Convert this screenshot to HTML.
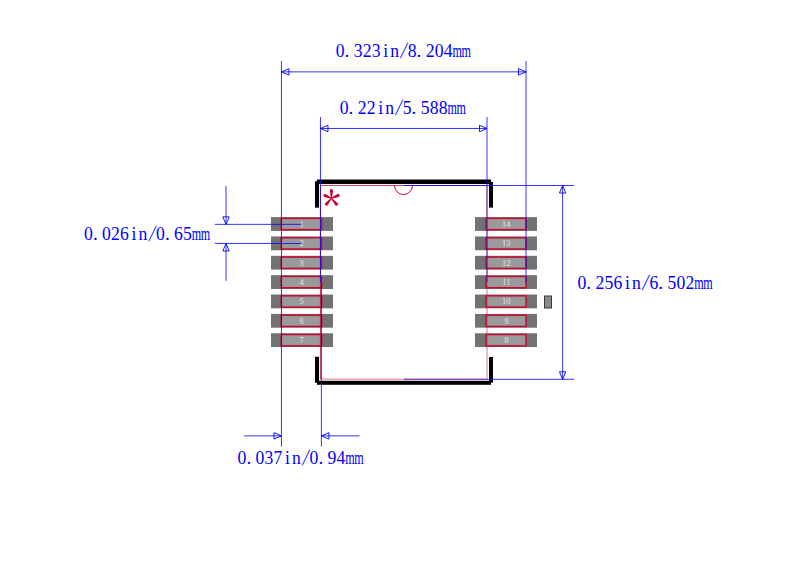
<!DOCTYPE html>
<html><head><meta charset="utf-8"><style>html,body{margin:0;padding:0;background:#fff;width:800px;height:568px;overflow:hidden}svg{display:block}</style></head>
<body><svg width="800" height="568" viewBox="0 0 800 568">
<rect width="800" height="568" fill="#fff"/>
<rect x="271.00" y="217.10" width="62.00" height="13.80" fill="#727272" stroke="none" stroke-width="0"/>
<rect x="281.30" y="218.35" width="40.30" height="11.30" fill="#999a99" stroke="#c80a32" stroke-width="1.5"/>
<text x="301.75" y="226.90" font-size="8.6" fill="#dcdcdc" stroke="#d0d0d0" stroke-width="0.2" text-anchor="middle" font-family="Liberation Serif">1</text>
<rect x="475.00" y="217.10" width="62.00" height="13.80" fill="#727272" stroke="none" stroke-width="0"/>
<rect x="486.00" y="218.35" width="40.00" height="11.30" fill="#999a99" stroke="#c80a32" stroke-width="1.5"/>
<text x="506.30" y="226.90" font-size="8.6" fill="#dcdcdc" stroke="#d0d0d0" stroke-width="0.2" text-anchor="middle" font-family="Liberation Serif">14</text>
<rect x="271.00" y="236.46" width="62.00" height="13.80" fill="#727272" stroke="none" stroke-width="0"/>
<rect x="281.30" y="237.71" width="40.30" height="11.30" fill="#999a99" stroke="#c80a32" stroke-width="1.5"/>
<text x="301.75" y="246.26" font-size="8.6" fill="#dcdcdc" stroke="#d0d0d0" stroke-width="0.2" text-anchor="middle" font-family="Liberation Serif">2</text>
<rect x="475.00" y="236.46" width="62.00" height="13.80" fill="#727272" stroke="none" stroke-width="0"/>
<rect x="486.00" y="237.71" width="40.00" height="11.30" fill="#999a99" stroke="#c80a32" stroke-width="1.5"/>
<text x="506.30" y="246.26" font-size="8.6" fill="#dcdcdc" stroke="#d0d0d0" stroke-width="0.2" text-anchor="middle" font-family="Liberation Serif">13</text>
<rect x="271.00" y="255.82" width="62.00" height="13.80" fill="#727272" stroke="none" stroke-width="0"/>
<rect x="281.30" y="257.07" width="40.30" height="11.30" fill="#999a99" stroke="#c80a32" stroke-width="1.5"/>
<text x="301.75" y="265.62" font-size="8.6" fill="#dcdcdc" stroke="#d0d0d0" stroke-width="0.2" text-anchor="middle" font-family="Liberation Serif">3</text>
<rect x="475.00" y="255.82" width="62.00" height="13.80" fill="#727272" stroke="none" stroke-width="0"/>
<rect x="486.00" y="257.07" width="40.00" height="11.30" fill="#999a99" stroke="#c80a32" stroke-width="1.5"/>
<text x="506.30" y="265.62" font-size="8.6" fill="#dcdcdc" stroke="#d0d0d0" stroke-width="0.2" text-anchor="middle" font-family="Liberation Serif">12</text>
<rect x="271.00" y="275.18" width="62.00" height="13.80" fill="#727272" stroke="none" stroke-width="0"/>
<rect x="281.30" y="276.43" width="40.30" height="11.30" fill="#999a99" stroke="#c80a32" stroke-width="1.5"/>
<text x="301.75" y="284.98" font-size="8.6" fill="#dcdcdc" stroke="#d0d0d0" stroke-width="0.2" text-anchor="middle" font-family="Liberation Serif">4</text>
<rect x="475.00" y="275.18" width="62.00" height="13.80" fill="#727272" stroke="none" stroke-width="0"/>
<rect x="486.00" y="276.43" width="40.00" height="11.30" fill="#999a99" stroke="#c80a32" stroke-width="1.5"/>
<text x="506.30" y="284.98" font-size="8.6" fill="#dcdcdc" stroke="#d0d0d0" stroke-width="0.2" text-anchor="middle" font-family="Liberation Serif">11</text>
<rect x="271.00" y="294.54" width="62.00" height="13.80" fill="#727272" stroke="none" stroke-width="0"/>
<rect x="281.30" y="295.79" width="40.30" height="11.30" fill="#999a99" stroke="#c80a32" stroke-width="1.5"/>
<text x="301.75" y="304.34" font-size="8.6" fill="#dcdcdc" stroke="#d0d0d0" stroke-width="0.2" text-anchor="middle" font-family="Liberation Serif">5</text>
<rect x="475.00" y="294.54" width="62.00" height="13.80" fill="#727272" stroke="none" stroke-width="0"/>
<rect x="486.00" y="295.79" width="40.00" height="11.30" fill="#999a99" stroke="#c80a32" stroke-width="1.5"/>
<text x="506.30" y="304.34" font-size="8.6" fill="#dcdcdc" stroke="#d0d0d0" stroke-width="0.2" text-anchor="middle" font-family="Liberation Serif">10</text>
<rect x="271.00" y="313.90" width="62.00" height="13.80" fill="#727272" stroke="none" stroke-width="0"/>
<rect x="281.30" y="315.15" width="40.30" height="11.30" fill="#999a99" stroke="#c80a32" stroke-width="1.5"/>
<text x="301.75" y="323.70" font-size="8.6" fill="#dcdcdc" stroke="#d0d0d0" stroke-width="0.2" text-anchor="middle" font-family="Liberation Serif">6</text>
<rect x="475.00" y="313.90" width="62.00" height="13.80" fill="#727272" stroke="none" stroke-width="0"/>
<rect x="486.00" y="315.15" width="40.00" height="11.30" fill="#999a99" stroke="#c80a32" stroke-width="1.5"/>
<text x="506.30" y="323.70" font-size="8.6" fill="#dcdcdc" stroke="#d0d0d0" stroke-width="0.2" text-anchor="middle" font-family="Liberation Serif">9</text>
<rect x="271.00" y="333.26" width="62.00" height="13.80" fill="#727272" stroke="none" stroke-width="0"/>
<rect x="281.30" y="334.51" width="40.30" height="11.30" fill="#999a99" stroke="#c80a32" stroke-width="1.5"/>
<text x="301.75" y="343.06" font-size="8.6" fill="#dcdcdc" stroke="#d0d0d0" stroke-width="0.2" text-anchor="middle" font-family="Liberation Serif">7</text>
<rect x="475.00" y="333.26" width="62.00" height="13.80" fill="#727272" stroke="none" stroke-width="0"/>
<rect x="486.00" y="334.51" width="40.00" height="11.30" fill="#999a99" stroke="#c80a32" stroke-width="1.5"/>
<text x="506.30" y="343.06" font-size="8.6" fill="#dcdcdc" stroke="#d0d0d0" stroke-width="0.2" text-anchor="middle" font-family="Liberation Serif">8</text>
<rect x="544.50" y="296.00" width="7.00" height="12.00" fill="#8a8a8a" stroke="#3a3a3a" stroke-width="1"/>
<path d="M320.45,379.1 V185.5 H487" fill="none" stroke="#c80a32" stroke-width="0.8"/>
<path d="M394.5,185.5 A9,9 0 0 0 412.5,185.5" fill="none" stroke="#c80a32" stroke-width="1"/>
<rect x="317.00" y="179.50" width="174.00" height="4.50" fill="#000" stroke="none" stroke-width="0"/>
<rect x="315.00" y="181.20" width="4.00" height="26.50" fill="#000" stroke="none" stroke-width="0"/>
<rect x="489.00" y="182.00" width="4.00" height="25.60" fill="#000" stroke="none" stroke-width="0"/>
<rect x="317.00" y="380.80" width="174.00" height="4.00" fill="#000" stroke="none" stroke-width="0"/>
<rect x="315.00" y="356.80" width="4.00" height="26.00" fill="#000" stroke="none" stroke-width="0"/>
<rect x="489.00" y="357.00" width="4.00" height="25.60" fill="#000" stroke="none" stroke-width="0"/>
<line x1="281.44" y1="61" x2="281.44" y2="446.5" stroke="#0000ff" stroke-width="0.8" />
<line x1="320.45" y1="117" x2="320.45" y2="282" stroke="#0000ff" stroke-width="0.8" />
<line x1="321.4" y1="282" x2="321.4" y2="446.5" stroke="#0000ff" stroke-width="0.8" />
<line x1="487.0" y1="117" x2="487.0" y2="282" stroke="#0000ff" stroke-width="0.8" />
<line x1="526.0" y1="61" x2="526.0" y2="282" stroke="#0000ff" stroke-width="0.8" />
<line x1="403.9" y1="185.5" x2="574" y2="185.5" stroke="#0000ff" stroke-width="0.8" />
<line x1="403.9" y1="379.3" x2="574" y2="379.3" stroke="#0000ff" stroke-width="0.8" />
<path d="M487,185.5 V379.1 H320.45" fill="none" stroke="#c80a32" stroke-width="0.8" stroke-opacity="0.7"/>
<path d="M331.90,198.25 L332.95,190.65 A1.55,1.55 0 0 0 329.85,190.65 L330.90,198.25 Z" fill="#cc0030"/>
<path d="M331.59,197.79 L325.49,194.12 A1.55,1.55 0 0 0 324.31,196.98 L331.21,198.71 Z" fill="#cc0030"/>
<path d="M331.59,198.71 L338.68,196.99 A1.55,1.55 0 0 0 337.52,194.11 L331.21,197.79 Z" fill="#cc0030"/>
<path d="M331.02,197.93 L325.22,203.15 A1.55,1.55 0 0 0 327.58,205.15 L331.78,198.57 Z" fill="#cc0030"/>
<path d="M331.02,198.58 L335.33,205.16 A1.55,1.55 0 0 0 337.67,203.14 L331.78,197.92 Z" fill="#cc0030"/>
<line x1="281.44" y1="71.86" x2="526.0" y2="71.86" stroke="#0000ff" stroke-width="0.8" />
<polygon points="281.44,71.86 288.94,68.66 288.94,75.06" fill="none" stroke="#0000ff" stroke-width="0.9" stroke-linejoin="miter"/>
<polygon points="526.0,71.86 518.50,75.06 518.50,68.66" fill="none" stroke="#0000ff" stroke-width="0.9" stroke-linejoin="miter"/>
<line x1="320.45" y1="128.46" x2="487.0" y2="128.46" stroke="#0000ff" stroke-width="0.8" />
<polygon points="320.45,128.46 327.95,125.26 327.95,131.66" fill="none" stroke="#0000ff" stroke-width="0.9" stroke-linejoin="miter"/>
<polygon points="487.0,128.46 479.50,131.66 479.50,125.26" fill="none" stroke="#0000ff" stroke-width="0.9" stroke-linejoin="miter"/>
<line x1="244" y1="435.86" x2="281.44" y2="435.86" stroke="#0000ff" stroke-width="0.8" />
<polygon points="281.44,435.86 273.94,439.06 273.94,432.66" fill="none" stroke="#0000ff" stroke-width="0.9" stroke-linejoin="miter"/>
<line x1="321.4" y1="435.86" x2="359.5" y2="435.86" stroke="#0000ff" stroke-width="0.8" />
<polygon points="321.4,435.86 328.90,432.66 328.90,439.06" fill="none" stroke="#0000ff" stroke-width="0.9" stroke-linejoin="miter"/>
<line x1="214.7" y1="224.35" x2="301.5" y2="224.35" stroke="#0000ff" stroke-width="0.8" />
<line x1="214.7" y1="243.45" x2="301.5" y2="243.45" stroke="#0000ff" stroke-width="0.8" />
<line x1="226.0" y1="186.2" x2="226.0" y2="224.35" stroke="#0000ff" stroke-width="0.8" />
<polygon points="226.0,224.35 222.80,216.85 229.20,216.85" fill="none" stroke="#0000ff" stroke-width="0.9" stroke-linejoin="miter"/>
<line x1="226.0" y1="243.45" x2="226.0" y2="280.8" stroke="#0000ff" stroke-width="0.8" />
<polygon points="226.0,243.45 229.20,250.95 222.80,250.95" fill="none" stroke="#0000ff" stroke-width="0.9" stroke-linejoin="miter"/>
<line x1="562.6" y1="185.5" x2="562.6" y2="379.3" stroke="#0000ff" stroke-width="0.8" />
<polygon points="562.6,185.5 565.80,193.00 559.40,193.00" fill="none" stroke="#0000ff" stroke-width="0.9" stroke-linejoin="miter"/>
<polygon points="562.6,379.3 559.40,371.80 565.80,371.80" fill="none" stroke="#0000ff" stroke-width="0.9" stroke-linejoin="miter"/>
<text transform="translate(340.20,57) scale(0.92,1)" font-size="19.2" fill="#0000ff" text-anchor="middle" font-family="Liberation Serif">0</text>
<text transform="translate(347.00,57) scale(1,1)" font-size="19.2" fill="#0000ff" text-anchor="middle" font-family="Liberation Serif">.</text>
<text transform="translate(358.20,57) scale(0.92,1)" font-size="19.2" fill="#0000ff" text-anchor="middle" font-family="Liberation Serif">3</text>
<text transform="translate(367.20,57) scale(0.92,1)" font-size="19.2" fill="#0000ff" text-anchor="middle" font-family="Liberation Serif">2</text>
<text transform="translate(376.20,57) scale(0.92,1)" font-size="19.2" fill="#0000ff" text-anchor="middle" font-family="Liberation Serif">3</text>
<text transform="translate(385.70,57) scale(0.92,1)" font-size="19.2" fill="#0000ff" text-anchor="middle" font-family="Liberation Serif">i</text>
<text transform="translate(394.70,57) scale(0.92,1)" font-size="19.2" fill="#0000ff" text-anchor="middle" font-family="Liberation Serif">n</text>
<text transform="translate(402.50,58) scale(1.0,1.2) skewX(-14)" font-size="19.2" fill="#0000ff" text-anchor="middle" font-family="Liberation Serif">/</text>
<text transform="translate(412.20,57) scale(0.92,1)" font-size="19.2" fill="#0000ff" text-anchor="middle" font-family="Liberation Serif">8</text>
<text transform="translate(419.00,57) scale(1,1)" font-size="19.2" fill="#0000ff" text-anchor="middle" font-family="Liberation Serif">.</text>
<text transform="translate(430.20,57) scale(0.92,1)" font-size="19.2" fill="#0000ff" text-anchor="middle" font-family="Liberation Serif">2</text>
<text transform="translate(439.20,57) scale(0.92,1)" font-size="19.2" fill="#0000ff" text-anchor="middle" font-family="Liberation Serif">0</text>
<text transform="translate(448.20,57) scale(0.92,1)" font-size="19.2" fill="#0000ff" text-anchor="middle" font-family="Liberation Serif">4</text>
<text transform="translate(457.20,57) scale(0.63,1)" font-size="19.2" fill="#0000ff" text-anchor="middle" font-family="Liberation Serif">m</text>
<text transform="translate(466.20,57) scale(0.63,1)" font-size="19.2" fill="#0000ff" text-anchor="middle" font-family="Liberation Serif">m</text>
<text transform="translate(344.20,114) scale(0.92,1)" font-size="19.2" fill="#0000ff" text-anchor="middle" font-family="Liberation Serif">0</text>
<text transform="translate(351.00,114) scale(1,1)" font-size="19.2" fill="#0000ff" text-anchor="middle" font-family="Liberation Serif">.</text>
<text transform="translate(362.20,114) scale(0.92,1)" font-size="19.2" fill="#0000ff" text-anchor="middle" font-family="Liberation Serif">2</text>
<text transform="translate(371.20,114) scale(0.92,1)" font-size="19.2" fill="#0000ff" text-anchor="middle" font-family="Liberation Serif">2</text>
<text transform="translate(380.70,114) scale(0.92,1)" font-size="19.2" fill="#0000ff" text-anchor="middle" font-family="Liberation Serif">i</text>
<text transform="translate(389.70,114) scale(0.92,1)" font-size="19.2" fill="#0000ff" text-anchor="middle" font-family="Liberation Serif">n</text>
<text transform="translate(397.50,115) scale(1.0,1.2) skewX(-14)" font-size="19.2" fill="#0000ff" text-anchor="middle" font-family="Liberation Serif">/</text>
<text transform="translate(407.20,114) scale(0.92,1)" font-size="19.2" fill="#0000ff" text-anchor="middle" font-family="Liberation Serif">5</text>
<text transform="translate(414.00,114) scale(1,1)" font-size="19.2" fill="#0000ff" text-anchor="middle" font-family="Liberation Serif">.</text>
<text transform="translate(425.20,114) scale(0.92,1)" font-size="19.2" fill="#0000ff" text-anchor="middle" font-family="Liberation Serif">5</text>
<text transform="translate(434.20,114) scale(0.92,1)" font-size="19.2" fill="#0000ff" text-anchor="middle" font-family="Liberation Serif">8</text>
<text transform="translate(443.20,114) scale(0.92,1)" font-size="19.2" fill="#0000ff" text-anchor="middle" font-family="Liberation Serif">8</text>
<text transform="translate(452.20,114) scale(0.63,1)" font-size="19.2" fill="#0000ff" text-anchor="middle" font-family="Liberation Serif">m</text>
<text transform="translate(461.20,114) scale(0.63,1)" font-size="19.2" fill="#0000ff" text-anchor="middle" font-family="Liberation Serif">m</text>
<text transform="translate(88.50,240) scale(0.92,1)" font-size="19.2" fill="#0000ff" text-anchor="middle" font-family="Liberation Serif">0</text>
<text transform="translate(95.30,240) scale(1,1)" font-size="19.2" fill="#0000ff" text-anchor="middle" font-family="Liberation Serif">.</text>
<text transform="translate(106.50,240) scale(0.92,1)" font-size="19.2" fill="#0000ff" text-anchor="middle" font-family="Liberation Serif">0</text>
<text transform="translate(115.50,240) scale(0.92,1)" font-size="19.2" fill="#0000ff" text-anchor="middle" font-family="Liberation Serif">2</text>
<text transform="translate(124.50,240) scale(0.92,1)" font-size="19.2" fill="#0000ff" text-anchor="middle" font-family="Liberation Serif">6</text>
<text transform="translate(134.00,240) scale(0.92,1)" font-size="19.2" fill="#0000ff" text-anchor="middle" font-family="Liberation Serif">i</text>
<text transform="translate(143.00,240) scale(0.92,1)" font-size="19.2" fill="#0000ff" text-anchor="middle" font-family="Liberation Serif">n</text>
<text transform="translate(150.80,241) scale(1.0,1.2) skewX(-14)" font-size="19.2" fill="#0000ff" text-anchor="middle" font-family="Liberation Serif">/</text>
<text transform="translate(160.50,240) scale(0.92,1)" font-size="19.2" fill="#0000ff" text-anchor="middle" font-family="Liberation Serif">0</text>
<text transform="translate(167.30,240) scale(1,1)" font-size="19.2" fill="#0000ff" text-anchor="middle" font-family="Liberation Serif">.</text>
<text transform="translate(178.50,240) scale(0.92,1)" font-size="19.2" fill="#0000ff" text-anchor="middle" font-family="Liberation Serif">6</text>
<text transform="translate(187.50,240) scale(0.92,1)" font-size="19.2" fill="#0000ff" text-anchor="middle" font-family="Liberation Serif">5</text>
<text transform="translate(196.50,240) scale(0.63,1)" font-size="19.2" fill="#0000ff" text-anchor="middle" font-family="Liberation Serif">m</text>
<text transform="translate(205.50,240) scale(0.63,1)" font-size="19.2" fill="#0000ff" text-anchor="middle" font-family="Liberation Serif">m</text>
<text transform="translate(581.90,289.1) scale(0.92,1)" font-size="19.2" fill="#0000ff" text-anchor="middle" font-family="Liberation Serif">0</text>
<text transform="translate(588.70,289.1) scale(1,1)" font-size="19.2" fill="#0000ff" text-anchor="middle" font-family="Liberation Serif">.</text>
<text transform="translate(599.90,289.1) scale(0.92,1)" font-size="19.2" fill="#0000ff" text-anchor="middle" font-family="Liberation Serif">2</text>
<text transform="translate(608.90,289.1) scale(0.92,1)" font-size="19.2" fill="#0000ff" text-anchor="middle" font-family="Liberation Serif">5</text>
<text transform="translate(617.90,289.1) scale(0.92,1)" font-size="19.2" fill="#0000ff" text-anchor="middle" font-family="Liberation Serif">6</text>
<text transform="translate(627.40,289.1) scale(0.92,1)" font-size="19.2" fill="#0000ff" text-anchor="middle" font-family="Liberation Serif">i</text>
<text transform="translate(636.40,289.1) scale(0.92,1)" font-size="19.2" fill="#0000ff" text-anchor="middle" font-family="Liberation Serif">n</text>
<text transform="translate(644.20,290.1) scale(1.0,1.2) skewX(-14)" font-size="19.2" fill="#0000ff" text-anchor="middle" font-family="Liberation Serif">/</text>
<text transform="translate(653.90,289.1) scale(0.92,1)" font-size="19.2" fill="#0000ff" text-anchor="middle" font-family="Liberation Serif">6</text>
<text transform="translate(660.70,289.1) scale(1,1)" font-size="19.2" fill="#0000ff" text-anchor="middle" font-family="Liberation Serif">.</text>
<text transform="translate(671.90,289.1) scale(0.92,1)" font-size="19.2" fill="#0000ff" text-anchor="middle" font-family="Liberation Serif">5</text>
<text transform="translate(680.90,289.1) scale(0.92,1)" font-size="19.2" fill="#0000ff" text-anchor="middle" font-family="Liberation Serif">0</text>
<text transform="translate(689.90,289.1) scale(0.92,1)" font-size="19.2" fill="#0000ff" text-anchor="middle" font-family="Liberation Serif">2</text>
<text transform="translate(698.90,289.1) scale(0.63,1)" font-size="19.2" fill="#0000ff" text-anchor="middle" font-family="Liberation Serif">m</text>
<text transform="translate(707.90,289.1) scale(0.63,1)" font-size="19.2" fill="#0000ff" text-anchor="middle" font-family="Liberation Serif">m</text>
<text transform="translate(242.00,464) scale(0.92,1)" font-size="19.2" fill="#0000ff" text-anchor="middle" font-family="Liberation Serif">0</text>
<text transform="translate(248.80,464) scale(1,1)" font-size="19.2" fill="#0000ff" text-anchor="middle" font-family="Liberation Serif">.</text>
<text transform="translate(260.00,464) scale(0.92,1)" font-size="19.2" fill="#0000ff" text-anchor="middle" font-family="Liberation Serif">0</text>
<text transform="translate(269.00,464) scale(0.92,1)" font-size="19.2" fill="#0000ff" text-anchor="middle" font-family="Liberation Serif">3</text>
<text transform="translate(278.00,464) scale(0.92,1)" font-size="19.2" fill="#0000ff" text-anchor="middle" font-family="Liberation Serif">7</text>
<text transform="translate(287.50,464) scale(0.92,1)" font-size="19.2" fill="#0000ff" text-anchor="middle" font-family="Liberation Serif">i</text>
<text transform="translate(296.50,464) scale(0.92,1)" font-size="19.2" fill="#0000ff" text-anchor="middle" font-family="Liberation Serif">n</text>
<text transform="translate(304.30,465) scale(1.0,1.2) skewX(-14)" font-size="19.2" fill="#0000ff" text-anchor="middle" font-family="Liberation Serif">/</text>
<text transform="translate(314.00,464) scale(0.92,1)" font-size="19.2" fill="#0000ff" text-anchor="middle" font-family="Liberation Serif">0</text>
<text transform="translate(320.80,464) scale(1,1)" font-size="19.2" fill="#0000ff" text-anchor="middle" font-family="Liberation Serif">.</text>
<text transform="translate(332.00,464) scale(0.92,1)" font-size="19.2" fill="#0000ff" text-anchor="middle" font-family="Liberation Serif">9</text>
<text transform="translate(341.00,464) scale(0.92,1)" font-size="19.2" fill="#0000ff" text-anchor="middle" font-family="Liberation Serif">4</text>
<text transform="translate(350.00,464) scale(0.63,1)" font-size="19.2" fill="#0000ff" text-anchor="middle" font-family="Liberation Serif">m</text>
<text transform="translate(359.00,464) scale(0.63,1)" font-size="19.2" fill="#0000ff" text-anchor="middle" font-family="Liberation Serif">m</text>
</svg></body></html>
